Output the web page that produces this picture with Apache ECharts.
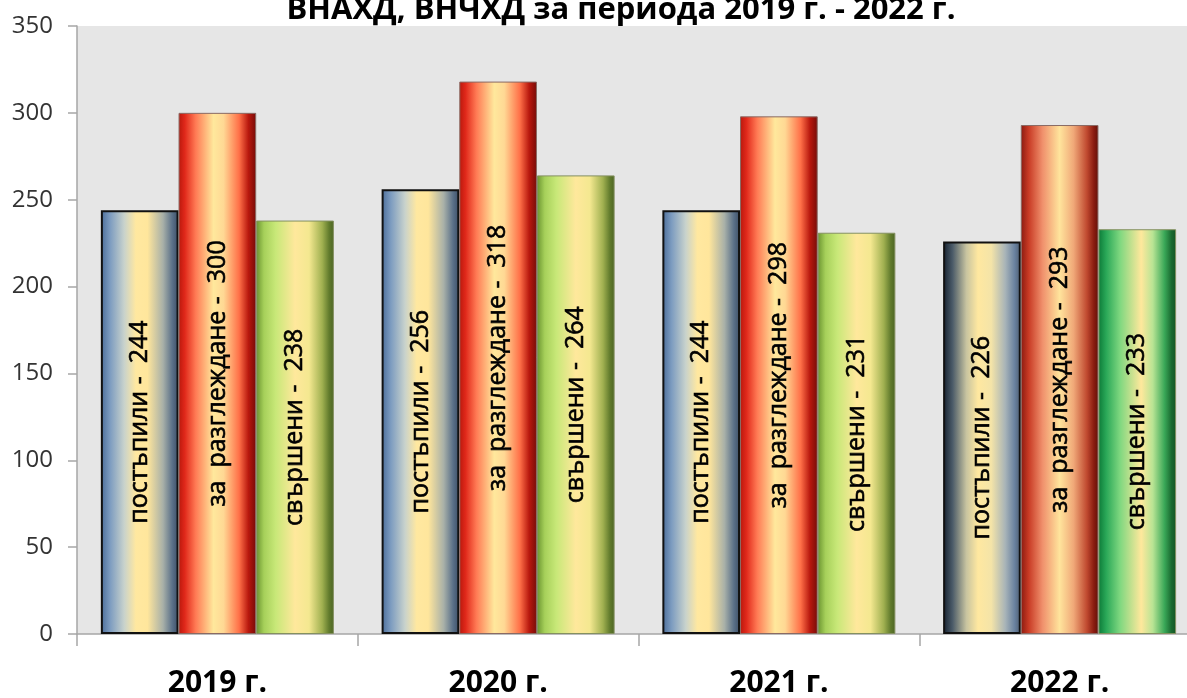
<!DOCTYPE html>
<html lang="bg">
<head>
    <meta charset="UTF-8">
    <title>ВНАХД, ВНЧХД</title>
    <style>
        html, body {
            margin: 0;
            padding: 0;
            overflow: hidden;
            background: #ffffff;
        }
    </style>
</head>
<body>
<div id="chart-canvas" style="width: 1210px;height:698px;"></div>
<script src="https://cdn.jsdelivr.net/npm/echarts@6/dist/echarts.min.js"></script>
<script type="text/javascript">
    const titleText = 'ВНАХД, ВНЧХД за периода 2019 г. - 2022 г.';
    const categories = ['2019 г.', '2020 г.', '2021 г.', '2022 г.'];
    const seriesNames = ['постъпили', 'за  разглеждане', 'свършени'];
    const received = [244, 256, 244, 226];
    const review = [300, 318, 298, 293];
    const done = [238, 264, 231, 233];
    const yTicks = [0, 50, 100, 150, 200, 250, 300, 350];

    // horizontal "glass" gradients, one list of stops per bar
    function grad(stops) {
        return new echarts.graphic.LinearGradient(0, 0, 1, 0,
            stops.map(s => ({offset: s[0], color: s[1]})));
    }

    const blue = [[0, '#4a6c98'], [0.12, '#7d9cc0'], [0.3, '#c8d2cc'], [0.45, '#ffe8a0'], [0.6, '#ffe69c'], [0.8, '#a8b0a8'], [0.92, '#5a7088'], [1, '#3c4e66']];
    const blueDark = [[0, '#14202e'], [0.12, '#4a5a68'], [0.3, '#c8c4a0'], [0.45, '#ffe8a0'], [0.62, '#f4e4a8'], [0.8, '#a8b4b8'], [0.92, '#6a82a0'], [1, '#4c5c70']];
    const red = [[0, '#b8180c'], [0.08, '#e0281a'], [0.22, '#ff7a54'], [0.45, '#ffe89c'], [0.58, '#ffd894'], [0.78, '#ff7048'], [0.9, '#b8180e'], [1, '#760c08']];
    const redDull = [[0, '#8a1a10'], [0.1, '#c83a24'], [0.28, '#f0906c'], [0.5, '#ffe49c'], [0.68, '#f0a878'], [0.85, '#c04a30'], [0.94, '#8a1c10'], [1, '#621008']];
    const lime = [[0, '#6a9430'], [0.1, '#a6d05a'], [0.25, '#c8e878'], [0.5, '#ffe89c'], [0.68, '#f4e890'], [0.85, '#a0b050'], [0.94, '#607a2c'], [1, '#4c6424']];
    const green = [[0, '#0c7a38'], [0.1, '#2aa858'], [0.28, '#80d880'], [0.55, '#ffe89c'], [0.7, '#b8e494'], [0.85, '#3aa858'], [0.94, '#1a6a30'], [1, '#145424']];

    const fills = [
        [blue, blue, blue, blueDark],
        [red, red, red, redDull],
        [lime, lime, lime, green]
    ];
    const borders = ['#111111', '#8a6a64', '#849060'];

    const labelFont = '"Open Sans", "DejaVu Sans", sans-serif';

    function makeSeries(values, idx) {
        return {
            name: seriesNames[idx],
            type: 'bar',
            barGap: '0%',
            barCategoryGap: '17%',
            data: values.map((v, i) => ({
                value: v,
                itemStyle: {
                    color: grad(fills[idx][i]),
                    borderColor: borders[idx],
                    borderWidth: idx === 0 ? 2 : 1
                }
            })),
            label: {
                show: true,
                position: 'inside',
                rotate: 90,
                formatter: '{a} -  {c}',
                fontFamily: labelFont,
                fontSize: 25,
                color: '#000000',
                textBorderColor: '#000000',
                textBorderWidth: 0.6
            }
        };
    }

    let myChart = echarts.init(document.getElementById('chart-canvas'));
    myChart.setOption({
        animation: false,
        title: {
            text: titleText,
            left: 616,
            textAlign: 'center',
            top: -10,
            textStyle: {
                fontFamily: labelFont,
                fontWeight: 'bold',
                fontSize: 31,
                color: '#000000'
            }
        },
        grid: {
            left: 77,
            right: 10,
            top: 26,
            bottom: 64,
            outerBoundsMode: 'none',
            show: true,
            backgroundColor: '#e6e6e6',
            borderWidth: 0
        },
        xAxis: {
            type: 'category',
            data: categories,
            axisLine: {lineStyle: {color: '#a6a6a6', width: 1.5}},
            axisTick: {show: true, length: 12, lineStyle: {color: '#a6a6a6', width: 1.5}},
            axisLabel: {
                margin: 34,
                fontFamily: labelFont,
                fontWeight: 'bold',
                fontSize: 30,
                color: '#000000'
            }
        },
        yAxis: {
            type: 'value',
            min: yTicks[0],
            max: yTicks[yTicks.length - 1],
            interval: 50,
            axisLine: {show: true, lineStyle: {color: '#a6a6a6', width: 1.5}},
            axisTick: {show: true, length: 9, lineStyle: {color: '#a6a6a6', width: 1.5}},
            splitLine: {show: false},
            axisLabel: {
                margin: 24,
                fontFamily: labelFont,
                fontSize: 24,
                color: '#333333'
            }
        },
        series: [
            makeSeries(received, 0),
            makeSeries(review, 1),
            makeSeries(done, 2)
        ]
    });
</script>
</body>
</html>
